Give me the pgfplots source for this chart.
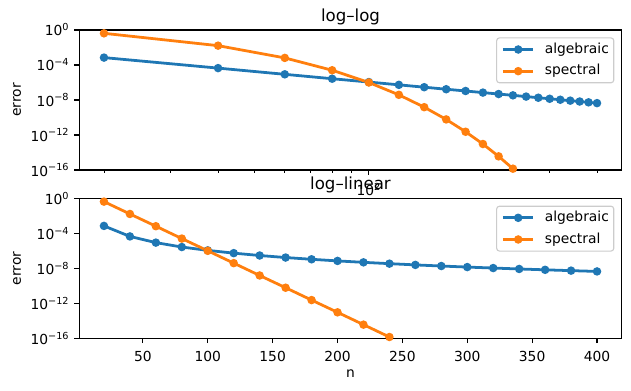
\documentclass[border=0pt]{standalone}
\usepackage{fontspec}
\setmainfont{DejaVu Sans}
\usepackage{pgfplots}
\pgfplotsset{compat=1.18}
\pgfkeys{/pgf/number format/assume math mode=true}
\definecolor{c0}{RGB}{31,119,180}
\definecolor{c1}{RGB}{255,127,14}
\pgfplotsset{
  legend image code/.code={\draw[mark repeat=2,mark phase=2] plot coordinates {(0bp,0bp) (11bp,0bp) (22bp,0bp)};},
}
\pgfplotstableread{
n err
20 7.0e-4
40 4.4e-5
60 8.6e-6
80 2.7e-6
100 1.12e-6
120 5.4e-7
140 2.9e-7
160 1.7e-7
180 1.07e-7
200 7.0e-8
220 4.8e-8
240 3.4e-8
260 2.45e-8
280 1.82e-8
300 1.38e-8
320 1.07e-8
340 8.4e-9
360 6.7e-9
380 5.4e-9
400 4.4e-9
}\algdata
\pgfplotstableread{
n err
20 0.417
40 1.62e-2
60 6.46e-4
80 2.51e-5
100 1.0e-6
120 3.89e-8
140 1.51e-9
160 6.03e-11
180 2.34e-12
200 9.33e-14
220 3.63e-15
240 1.41e-16
}\specdata
\begin{document}
\begin{tikzpicture}
\useasboundingbox (0,0) rectangle (454.32bp,281.52bp);
\begin{axis}[at={(57.1bp,159.12bp)}, anchor=south west,
    scale only axis, width=390.5bp, height=100.8bp,
    tick align=outside, major tick length=3.5bp, minor tick length=2bp,
    major tick style={black, line width=0.8bp},
    minor tick style={black, line width=0.6bp},
    xtick pos=left, ytick pos=left,
    axis line style={line width=0.8bp},
    tick label style={font=\fontsize{10}{12}\selectfont},
    ymode=log, ymin=1e-16, ymax=1,
    ytick={1e-16,1e-12,1e-8,1e-4,1},
    yticklabels={10\textsuperscript{−16},10\textsuperscript{−12},10\textsuperscript{−8},10\textsuperscript{−4},10\textsuperscript{0}},
    yminorticks=false,
    xticklabel style={anchor=north, inner sep=0pt, yshift=-5.6bp},
    yticklabel style={anchor=east, inner sep=0pt, xshift=-3.5bp},
    ylabel={error},
    ylabel style={at={(axis description cs:-0.1149,0.5)}, anchor=center, font=\fontsize{10}{12}\selectfont},
    title style={at={(axis description cs:0.5,1)}, anchor=base, inner sep=0pt, font=\fontsize{12}{14}\selectfont},
    legend cell align=left,
    legend style={at={(axis description cs:1,1)}, anchor=north east, xshift=-5.3bp, yshift=-5.3bp,
      draw=black!20, line width=0.8bp, rounded corners=2bp, fill=white, fill opacity=0.8, draw opacity=1, text opacity=1,
      font=\fontsize{10}{12}\selectfont, inner xsep=3.5bp, inner ysep=3.4bp, row sep=5.7bp, column sep=7.2bp,
      nodes={inner sep=0pt, text height=7.5bp, text depth=2.4bp}},
  title={log–log},
  xmode=log, xmin=17.215, xmax=464.7,
  xtick={100}, xticklabels={10\textsuperscript{2}},
  minor xtick={20,30,40,50,60,70,80,90,200,300,400}]
\addplot[c0, line width=2bp, mark=*, mark size=2bp, mark options={solid, fill=c0, draw=c0}] table[x=n,y=err] {\algdata};
\addlegendentry{algebraic}
\addplot[c1, line width=2bp, mark=*, mark size=2bp, mark options={solid, fill=c1, draw=c1}] table[x=n,y=err] {\specdata};
\addlegendentry{spectral}
\end{axis}
\begin{axis}[at={(57.1bp,37.94bp)}, anchor=south west,
    scale only axis, width=390.5bp, height=100.8bp,
    tick align=outside, major tick length=3.5bp, minor tick length=2bp,
    major tick style={black, line width=0.8bp},
    minor tick style={black, line width=0.6bp},
    xtick pos=left, ytick pos=left,
    axis line style={line width=0.8bp},
    tick label style={font=\fontsize{10}{12}\selectfont},
    ymode=log, ymin=1e-16, ymax=1,
    ytick={1e-16,1e-12,1e-8,1e-4,1},
    yticklabels={10\textsuperscript{−16},10\textsuperscript{−12},10\textsuperscript{−8},10\textsuperscript{−4},10\textsuperscript{0}},
    yminorticks=false,
    xticklabel style={anchor=north, inner sep=0pt, yshift=-5.6bp},
    yticklabel style={anchor=east, inner sep=0pt, xshift=-3.5bp},
    ylabel={error},
    ylabel style={at={(axis description cs:-0.1149,0.5)}, anchor=center, font=\fontsize{10}{12}\selectfont},
    title style={at={(axis description cs:0.5,1)}, anchor=base, inner sep=0pt, font=\fontsize{12}{14}\selectfont},
    legend cell align=left,
    legend style={at={(axis description cs:1,1)}, anchor=north east, xshift=-5.3bp, yshift=-5.3bp,
      draw=black!20, line width=0.8bp, rounded corners=2bp, fill=white, fill opacity=0.8, draw opacity=1, text opacity=1,
      font=\fontsize{10}{12}\selectfont, inner xsep=3.5bp, inner ysep=3.4bp, row sep=5.7bp, column sep=7.2bp,
      nodes={inner sep=0pt, text height=7.5bp, text depth=2.4bp}},
  title={log–linear},
  xmin=1, xmax=419,
  xtick={50,100,150,200,250,300,350,400},
  xlabel={n},
  xlabel style={at={(axis description cs:0.5,-0.255)}, anchor=center, font=\fontsize{10}{12}\selectfont}]
\addplot[c0, line width=2bp, mark=*, mark size=2bp, mark options={solid, fill=c0, draw=c0}] table[x=n,y=err] {\algdata};
\addlegendentry{algebraic}
\addplot[c1, line width=2bp, mark=*, mark size=2bp, mark options={solid, fill=c1, draw=c1}] table[x=n,y=err] {\specdata};
\addlegendentry{spectral}
\end{axis}
\end{tikzpicture}
\end{document}
